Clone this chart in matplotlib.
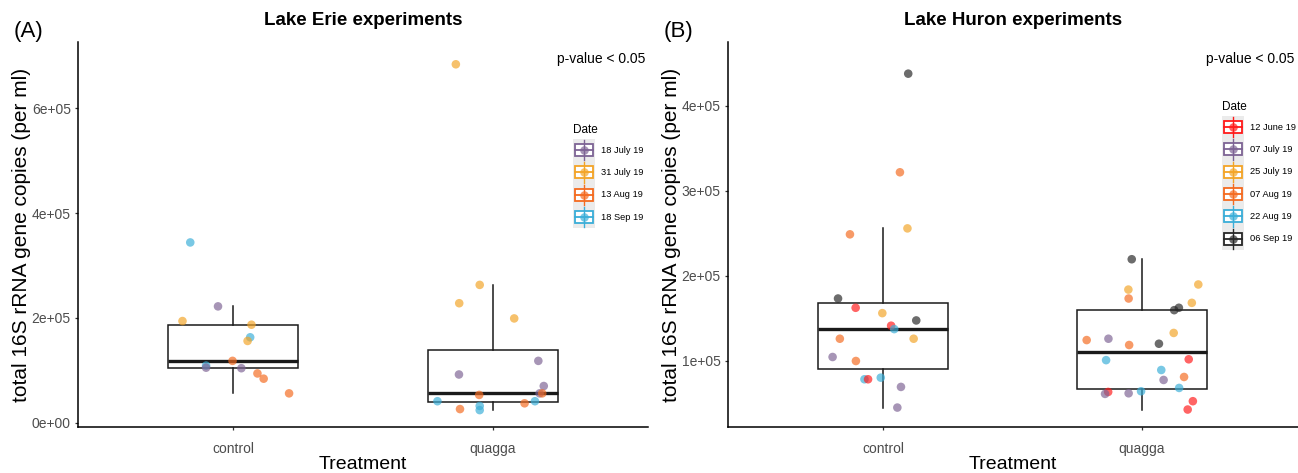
import matplotlib
matplotlib.use("Agg")
import matplotlib.pyplot as plt
from matplotlib.patches import Rectangle
import numpy as np

plt.rcParams['font.family'] = ['Liberation Sans', 'DejaVu Sans']

# ---------------- data ----------------
treatments = ["control", "quagga"]

erie_dates = ["18 July 19", "31 July 19", "13 Aug 19", "18 Sep 19"]
erie_colors = ["#7D6394", "#F3A426", "#F46A1F", "#3AAED8"]

erie_control_vals = [3.44, 2.22, 1.94, 1.87, 1.63, 1.56, 1.18, 1.09, 1.05, 1.04, 0.94, 0.84, 0.56]
erie_control_dates = ["18 Sep 19", "18 July 19", "31 July 19", "31 July 19", "18 Sep 19", "31 July 19",
                      "13 Aug 19", "18 Sep 19", "18 July 19", "18 July 19", "13 Aug 19", "13 Aug 19", "13 Aug 19"]
erie_control_jitter = [-0.166, -0.059, -0.196, 0.07, 0.065, 0.055, -0.003, -0.105, -0.105, 0.031, 0.093, 0.117, 0.215]

erie_quagga_vals = [6.84, 2.63, 2.28, 1.99, 1.18, 0.92, 0.70, 0.56, 0.56, 0.53, 0.41, 0.41, 0.37, 0.32, 0.26, 0.24]
erie_quagga_dates = ["31 July 19", "31 July 19", "31 July 19", "31 July 19", "18 July 19", "18 July 19",
                     "18 July 19", "18 July 19", "13 Aug 19", "13 Aug 19", "18 Sep 19", "18 Sep 19",
                     "13 Aug 19", "18 Sep 19", "13 Aug 19", "18 Sep 19"]
erie_quagga_jitter = [-0.142, -0.05, -0.129, 0.083, 0.176, -0.13, 0.197, 0.181, 0.191, -0.052, -0.213, 0.163,
                      0.123, -0.05, -0.126, -0.05]

huron_dates = ["12 June 19", "07 July 19", "25 July 19", "07 Aug 19", "22 Aug 19", "06 Sep 19"]
huron_colors = ["#FF1A1A", "#7D6394", "#F3A426", "#F46A1F", "#3AAED8", "#262626"]

huron_control_vals = [4.38, 3.22, 2.56, 2.49, 1.735, 1.626, 1.563, 1.477, 1.415, 1.375, 1.262, 1.262, 1.047,
                      1.0, 0.785, 0.785, 0.804, 0.695, 0.452]
huron_control_dates = ["06 Sep 19", "07 Aug 19", "25 July 19", "07 Aug 19", "06 Sep 19", "12 June 19",
                       "25 July 19", "06 Sep 19", "12 June 19", "22 Aug 19", "07 Aug 19", "25 July 19",
                       "07 July 19", "07 Aug 19", "22 Aug 19", "12 June 19", "22 Aug 19", "07 July 19", "07 July 19"]
huron_control_jitter = [0.097, 0.065, 0.094, -0.128, -0.174, -0.106, -0.003, 0.128, 0.031, 0.043, -0.167, 0.118,
                        -0.195, -0.105, -0.072, -0.058, -0.009, 0.069, 0.055]

huron_quagga_vals = [2.197, 1.9, 1.84, 1.735, 1.684, 1.598, 1.626, 1.33, 1.246, 1.262, 1.188, 1.203, 1.02, 1.01,
                     0.894, 0.812, 0.777, 0.683, 0.636, 0.613, 0.62, 0.644, 0.527, 0.429]
huron_quagga_dates = ["06 Sep 19", "25 July 19", "25 July 19", "07 Aug 19", "25 July 19", "06 Sep 19", "06 Sep 19",
                      "25 July 19", "07 Aug 19", "07 July 19", "07 Aug 19", "06 Sep 19", "12 June 19", "22 Aug 19",
                      "22 Aug 19", "07 Aug 19", "07 July 19", "22 Aug 19", "12 June 19", "07 July 19", "07 July 19",
                      "22 Aug 19", "12 June 19", "12 June 19"]
huron_quagga_jitter = [-0.04, 0.217, -0.053, -0.052, 0.192, 0.124, 0.142, 0.122, -0.214, -0.13, -0.05, 0.065, 0.18,
                       -0.139, 0.074, 0.162, 0.083, 0.143, -0.131, -0.143, -0.052, -0.004, 0.196, 0.176]

erie_yticks = [0, 2e5, 4e5, 6e5]
erie_yticklabels = ["0e+00", "2e+05", "4e+05", "6e+05"]
huron_yticks = [1e5, 2e5, 3e5, 4e5]
huron_yticklabels = ["1e+05", "2e+05", "3e+05", "4e+05"]

# ---------------- layout ----------------
W, H = 1298, 473
fig = plt.figure(figsize=(W / 100, H / 100), dpi=100)


def px_rect(x0, y0, x1, y1):
    return [x0 / W, 1 - y1 / H, (x1 - x0) / W, (y1 - y0) / H]


GREY_TXT = "#4D4D4D"
PT_ALPHA = 0.68
PT_SIZE = 38


def panel(rect, title, tag, groups, dates, colors, ylim, yticks, yticklabels, legend_pos):
    ax = fig.add_axes(px_rect(*rect))
    cmap = dict(zip(dates, colors))
    data = [np.array(g[0]) * 1e5 for g in groups]
    positions = [1, 2]
    bp = ax.boxplot(data, positions=positions, widths=0.5, whis=1.5, showfliers=False,
                    showcaps=False, patch_artist=True, zorder=2)
    for b in bp['boxes']:
        b.set_facecolor('white')
        b.set_edgecolor('#1a1a1a')
        b.set_linewidth(1.1)
    for w in bp['whiskers']:
        w.set_color('#1a1a1a')
        w.set_linewidth(1.1)
    for m in bp['medians']:
        m.set_color('#1a1a1a')
        m.set_linewidth(2.4)
    for pos, (vals, ds, jit) in zip(positions, groups):
        xs = pos + np.array(jit)
        ys = np.array(vals) * 1e5
        cs = [cmap[d] for d in ds]
        ax.scatter(xs, ys, s=PT_SIZE, c=cs, alpha=PT_ALPHA, linewidths=0, zorder=3)

    ax.set_xlim(0.4, 2.6)
    ax.set_ylim(*ylim)
    ax.set_xticks(positions)
    ax.set_xticklabels(treatments)
    ax.set_yticks(yticks)
    ax.set_yticklabels(yticklabels)
    for s in ['top', 'right']:
        ax.spines[s].set_visible(False)
    for s in ['left', 'bottom']:
        ax.spines[s].set_linewidth(1.1)
        ax.spines[s].set_color('black')
    ax.tick_params(axis='both', length=2.5, width=0.9, color='#333333', labelsize=10, labelcolor=GREY_TXT)
    ax.tick_params(axis='x', pad=8)
    ax.tick_params(axis='y', pad=2.5)
    ax.set_xlabel("Treatment", fontsize=14, labelpad=0)
    ax.set_ylabel("total 16S rRNA gene copies (per ml)", fontsize=15, labelpad=0.5)
    ax.set_title(title, fontsize=13.5, fontweight='bold', pad=12)
    ax.text(0.9945, 0.955, "p-value < 0.05", transform=ax.transAxes, ha='right', va='center', fontsize=10,
            color='black')
    fig.text((rect[0] - 64) / W, 1 - 31 / H, tag, fontsize=16, ha='left', va='center')

    # legend
    lx, ly = legend_pos
    lax = fig.add_axes([0, 0, 1, 1], facecolor='none')
    lax.set_xlim(0, W)
    lax.set_ylim(H, 0)
    lax.axis('off')
    lax.text(lx, ly, "Date", fontsize=8.5, ha='left', va='center')
    row_h = 22.3
    top = ly + 9
    n = len(dates)
    lax.add_patch(Rectangle((lx, top), 22, row_h * n, facecolor='#EBEBEB', edgecolor='none'))
    for i, (d, c) in enumerate(zip(dates, colors)):
        cy = top + row_h * (i + 0.5)
        cx = lx + 11
        lax.plot([cx, cx], [cy - row_h / 2 + 1, cy + row_h / 2 - 1], color=c, lw=1.0)
        lax.add_patch(Rectangle((cx - 9, cy - 6), 18, 12, facecolor='white', edgecolor=c, lw=1.3))
        lax.plot([cx - 9, cx + 9], [cy, cy], color=c, lw=1.3)
        lax.scatter([cx], [cy], s=PT_SIZE, color=c, alpha=PT_ALPHA, linewidths=0)
        lax.text(lx + 28, cy, d, fontsize=6.7, ha='left', va='center')
    return ax


panel((77.7, 41.7, 648.3, 427.3), "Lake Erie experiments", "(A)",
      [(erie_control_vals, erie_control_dates, erie_control_jitter),
       (erie_quagga_vals, erie_quagga_dates, erie_quagga_jitter)],
      erie_dates, erie_colors, (-0.0878e5, 7.271e5), erie_yticks, erie_yticklabels, (573, 130))

panel((727.7, 41.7, 1297.5, 427.3), "Lake Huron experiments", "(B)",
      [(huron_control_vals, huron_control_dates, huron_control_jitter),
       (huron_quagga_vals, huron_quagga_dates, huron_quagga_jitter)],
      huron_dates, huron_colors, (0.22e5, 4.756e5), huron_yticks, huron_yticklabels, (1222, 107))

fig.savefig("out.png", dpi=100)
